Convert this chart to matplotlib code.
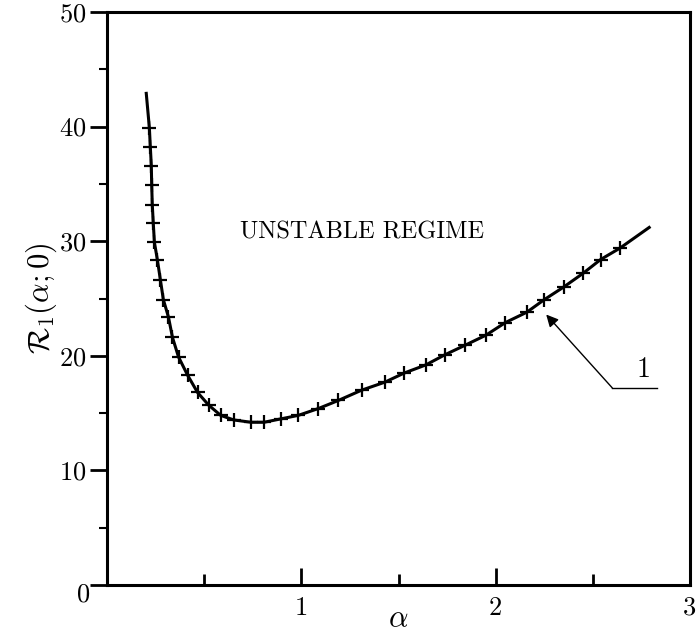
import matplotlib
matplotlib.use("Agg")
import matplotlib.pyplot as plt
import matplotlib.transforms as mtransforms

plt.rcParams['font.family'] = 'serif'
plt.rcParams['font.serif'] = ['cmr10']
plt.rcParams['mathtext.fontset'] = 'cm'
plt.rcParams['axes.formatter.use_mathtext'] = True

# Neutral stability curve 1: R1(alpha; 0)
alpha = [0.202, 0.218, 0.223, 0.228, 0.230, 0.233, 0.238, 0.244, 0.259, 0.275,
         0.290, 0.316, 0.337, 0.368, 0.415, 0.466, 0.523, 0.585, 0.653, 0.741,
         0.808, 0.896, 0.984, 1.088, 1.19, 1.31, 1.43, 1.53, 1.64, 1.74,
         1.84, 1.95, 2.05, 2.16, 2.25, 2.35, 2.45, 2.54, 2.64, 2.79]
R1 = [42.9, 39.9, 38.2, 36.6, 34.9, 33.2, 31.6, 29.9, 28.4, 26.6,
      24.9, 23.4, 21.6, 19.9, 18.3, 16.8, 15.7, 14.8, 14.4, 14.2,
      14.2, 14.5, 14.8, 15.4, 16.1, 17.0, 17.7, 18.5, 19.2, 20.1,
      20.9, 21.8, 22.9, 23.8, 24.9, 26.0, 27.2, 28.4, 29.4, 31.2]

xticks_major = [0, 1, 2, 3]
xtick_labels = ['', '1', '2', '3']
yticks_major = [0, 10, 20, 30, 40, 50]

fig = plt.figure(figsize=(6.96, 6.36), dpi=100)
ax = fig.add_axes([107/696, 1-585/636, (690-107)/696, (585-12)/636])

ax.plot(alpha, R1, color='black', lw=2.2, marker='+', ms=10, mew=1.6,
        markevery=slice(1, -1))

ax.set_xlim(0, 3)
ax.set_ylim(0, 50)
ax.set_xticks(xticks_major)
ax.set_xticklabels(xtick_labels)
ax.set_xticks([0.5, 1.5, 2.5], minor=True)
ax.set_yticks(yticks_major)
ax.set_yticks([5, 15, 25, 35, 45], minor=True)

ax.tick_params(axis='x', which='major', direction='in', length=12, width=2, labelsize=19, pad=8)
ax.tick_params(axis='x', which='minor', direction='in', length=8, width=2)
ax.tick_params(axis='y', which='major', direction='out', length=12, width=2, labelsize=19, pad=3)
ax.tick_params(axis='y', which='minor', direction='out', length=6, width=1.5)

for s in ax.spines.values():
    s.set_linewidth(2.2)

ax.set_xlabel(r'$\alpha$', fontsize=22, labelpad=-10)
ax.set_ylabel(r'$\mathcal{R}_1(\alpha;0)$', fontsize=22, labelpad=0)

# shift the "0" y tick label slightly down, as in the reference
fig.canvas.draw()
zero_lab = ax.get_yticklabels()[0]
zero_lab.set_transform(zero_lab.get_transform() +
                       mtransforms.ScaledTranslation(4/100, -7/100, fig.dpi_scale_trans))

ax.text(1.31, 30.8, 'UNSTABLE REGIME', fontsize=17.5, ha='center', va='center')

ax.annotate('', xy=(2.26, 23.6), xytext=(2.60, 17.2),
            arrowprops=dict(arrowstyle='-|>', color='black', lw=1.0,
                            mutation_scale=18, shrinkA=0, shrinkB=0))
ax.plot([2.60, 2.83], [17.2, 17.2], color='black', lw=1.0)
ax.text(2.76, 17.6, '1', fontsize=20, ha='center', va='bottom')

fig.savefig('out.png', dpi=100)
